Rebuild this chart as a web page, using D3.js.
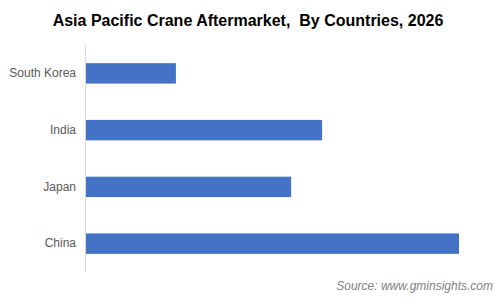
<!DOCTYPE html>
<html>
<head>
<meta charset="utf-8">
<script src="https://cdn.jsdelivr.net/npm/d3@7"></script>
<style>
  html, body { margin: 0; padding: 0; background: #fff; }
  svg { display: block; font-family: "Liberation Sans", Arial, sans-serif; }
</style>
</head>
<body>
<svg id="chart" width="496" height="305"></svg>
<script>
// values (China = 100)
const countries = ['South Korea', 'India', 'Japan', 'China']
const values = [24.1, 63.3, 55.0, 100]

const svg = d3.select('#chart')
const margins = { top: 45, right: 37, bottom: 33, left: 86 }
const width = 496 - margins.left - margins.right
const height = 305 - margins.top - margins.bottom

const data = countries.map((c, i) => ({ country: c, value: values[i] }))

const x = d3.scaleLinear().domain([0, d3.max(values)]).range([0, width])
const y = d3.scaleBand().domain(countries).range([0, height])
  .paddingInner(0.64).paddingOuter(0.32)

svg.append('text')
  .attr('x', 248)
  .attr('y', 25.5)
  .attr('text-anchor', 'middle')
  .attr('font-size', 16)
  .attr('font-weight', 'bold')
  .attr('fill', '#000')
  .style('white-space', 'pre')
  .text('Asia Pacific Crane Aftermarket,  By Countries, 2026')

const g = svg.append('g')
  .attr('transform', `translate(${margins.left}, ${margins.top})`)

g.selectAll('.bar')
  .data(data)
  .enter()
  .append('rect')
  .attr('class', 'bar')
  .attr('x', 0)
  .attr('y', (d) => y(d.country))
  .attr('width', (d) => x(d.value))
  .attr('height', y.bandwidth())
  .attr('fill', '#4472C4')

const yAxis = g.append('g')
  .attr('class', 'axis axis--y')
  .call(d3.axisLeft(y).tickSize(0).tickPadding(10))
yAxis.select('.domain').attr('stroke', '#d9d9d9').attr('d', `M-0.5,0V${height}`)
yAxis.selectAll('text')
  .attr('font-size', 12)
  .attr('fill', '#595959')
  .attr('font-family', '"Liberation Sans", Arial, sans-serif')

svg.append('text')
  .attr('x', 493)
  .attr('y', 290)
  .attr('text-anchor', 'end')
  .attr('font-size', 12)
  .attr('font-style', 'italic')
  .attr('fill', '#7f7f7f')
  .text('Source: www.gminsights.com')
</script>
</body>
</html>
